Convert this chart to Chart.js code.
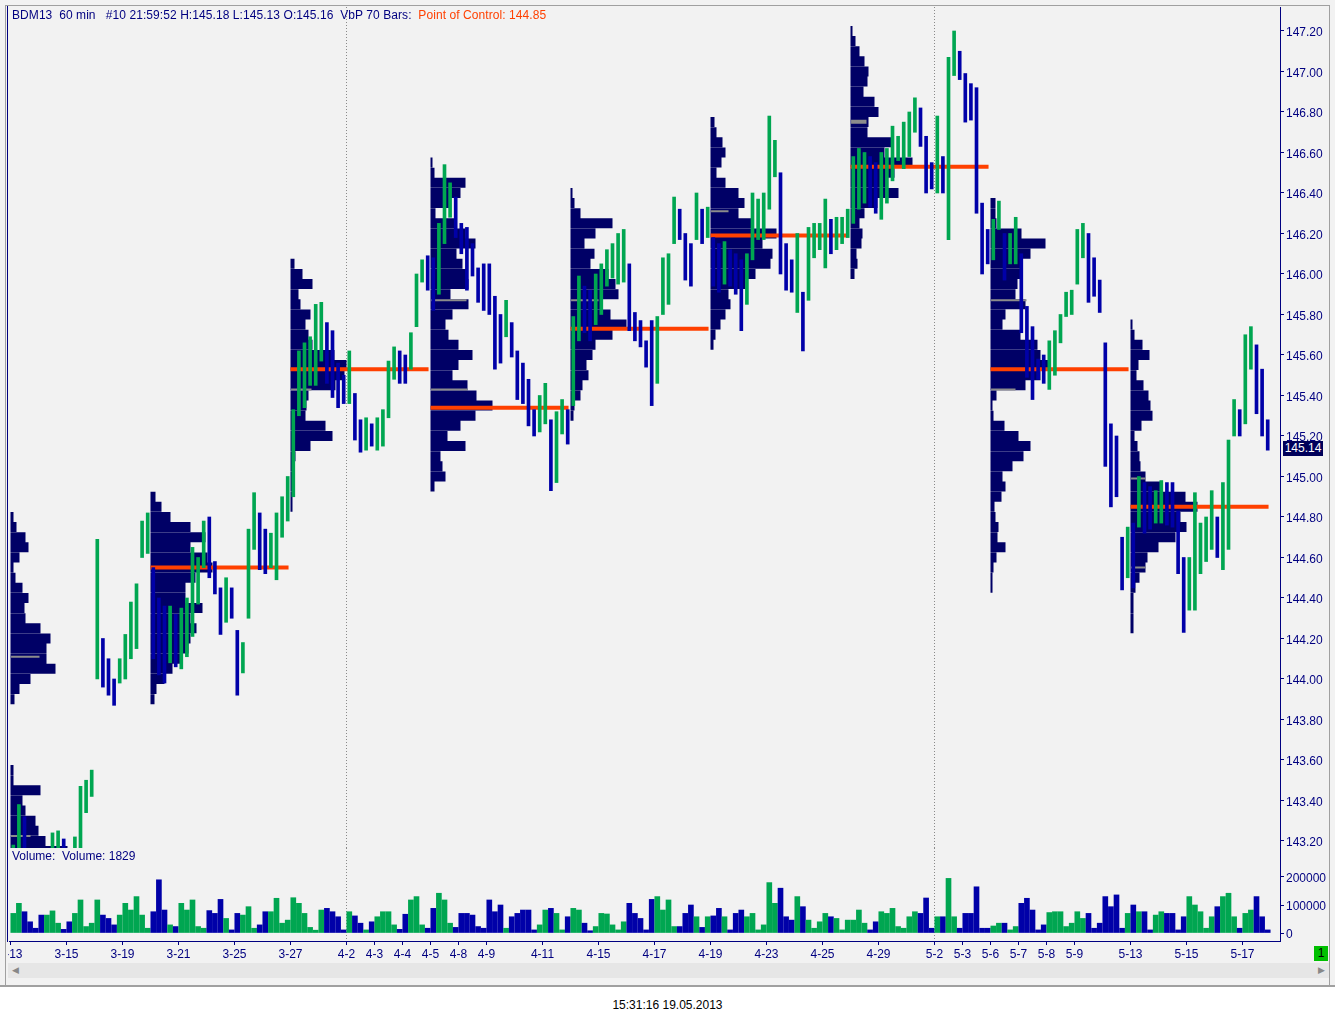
<!DOCTYPE html>
<html>
<head>
<meta charset="utf-8">
<title>BDM13 60 min - VbP</title>
<script src="https://cdn.jsdelivr.net/npm/chart.js@4.4.1/dist/chart.umd.min.js"></script>
<style>
  body { margin: 0; background: #fff; font-family: "Liberation Sans", Arial, sans-serif; }
  #win { position: absolute; left: 0; top: 0; width: 1335px; height: 985px; background: #f2f2f2; border-bottom: 2px solid #a0a0a0; }
  .abs { position: absolute; }
  #priceBox { left: 0; top: 0; width: 1335px; height: 848px; }
  #volBox { left: 0; top: 848px; width: 1335px; height: 114px; }
  .txt { position: absolute; font-size: 12px; line-height: 14px; white-space: pre; color: #000080; z-index: 5; }
</style>
</head>
<body>
<div id="win">
  <div class="abs" id="priceBox"><canvas id="priceChart"></canvas></div>
  <div class="abs" id="volBox"><canvas id="volChart"></canvas></div>

  <!-- window frame -->
  <div class="abs" style="left:0;top:0;width:8px;height:985px;background:#f2f2f2;z-index:4"></div>
  <div class="abs" style="left:5px;top:5px;width:1px;height:980px;background:#a0a0a0;z-index:4"></div>
  <div class="abs" style="left:7px;top:6px;width:1px;height:936px;background:#000080;z-index:4"></div>
  <div class="abs" style="left:5px;top:5px;width:1325px;height:1px;background:#a0a0a0;z-index:4"></div>
  <div class="abs" style="left:1329px;top:5px;width:1px;height:980px;background:#a0a0a0;z-index:4"></div>

  <div class="txt" style="left:12px;top:8px;letter-spacing:0.07px">BDM13  60 min   #10 21:59:52 H:145.18 L:145.13 O:145.16  VbP 70 Bars:  <span style="color:#ff4000">Point of Control: 144.85</span></div>
  <div class="txt" style="left:12px;top:849px">Volume:  Volume: 1829</div>
  <div class="txt" style="left:1283px;top:441px;width:40px;height:15px;background:#00005a;color:#fff;text-align:center;line-height:15px">145.14</div>
  <div class="txt" style="left:1314px;top:946px;width:14px;height:15px;background:#00c000;color:#000;text-align:center;line-height:15px">1</div>

  <!-- scroll bar -->
  <div class="abs" style="left:8px;top:963px;width:1321px;height:15px;background:#e6e6e6;z-index:4"></div>
  <div class="txt" style="left:12px;top:963px;color:#888;font-size:9px;line-height:15px">&#9664;</div>
  <div class="txt" style="left:1318px;top:963px;color:#888;font-size:9px;line-height:15px">&#9654;</div>
</div>
<div class="txt" style="left:0;top:998px;width:1335px;text-align:center;color:#000">15:31:16 19.05.2013</div>

<script>
// ---- axis labels ----
const dayLabels = ['3-13','3-15','3-19','3-21','3-25','3-27','4-2','4-3','4-4','4-5','4-8','4-9','4-11','4-15',
                   '4-17','4-19','4-23','4-25','4-29','5-2','5-3','5-6','5-7','5-8','5-9','5-13','5-15','5-17'];
const labelDays = [0,2,4,6,8,10,12,13,14,15,16,17,19,21,23,25,27,29,31,33,34,35,36,37,38,40,42,44];
const monthStarts = [12, 33];
const priceTicks = [143.2,143.4,143.6,143.8,144.0,144.2,144.4,144.6,144.8,145.0,145.2,145.4,145.6,145.8,146.0,146.2,146.4,146.6,146.8,147.0,147.2];
const volTicks = [0, 100000, 200000];

// ---- price samples (5 per trading day), high / low ----
const hi = [
  143.18,143.38,143.32,143.14,143.12,  143.10,143.12,143.24,143.25,143.21,  143.16,143.22,143.47,143.50,143.55,
  144.69,144.20,144.10,144.00,144.10,  144.22,144.38,144.47,144.78,144.82,  144.55,144.40,144.36,144.36,144.32,
  144.35,144.40,144.65,144.60,144.78,  144.80,144.58,144.45,144.50,144.45,  144.24,144.18,144.74,144.92,144.82,
  144.74,144.72,144.82,144.90,145.00,  145.33,145.62,145.66,145.69,145.85,  145.86,145.76,145.72,145.56,145.50,
  145.62,145.41,145.28,145.29,145.26,  145.29,145.33,145.57,145.64,145.62,  145.60,145.71,146.00,146.07,146.09,
  146.08,146.25,146.54,146.45,146.38,  146.25,146.23,146.15,146.03,146.05,  146.05,145.89,145.80,145.87,145.76,
  145.62,145.56,145.48,145.33,145.40,  145.46,145.28,145.32,145.38,145.33,  145.79,145.99,145.94,145.92,146.00,
  146.05,146.12,146.15,146.20,146.22,  146.05,145.81,145.77,145.67,145.77,  145.79,146.08,146.10,146.38,146.32,
  146.20,146.15,146.40,146.32,146.33,  146.18,146.15,146.16,146.12,146.10,  146.07,146.10,146.40,146.37,146.40,
  146.78,146.66,146.50,146.15,146.07,  146.20,145.91,146.23,146.25,146.25,  146.37,146.27,146.28,146.28,146.32,
  146.58,146.62,146.60,146.58,146.55,  146.60,146.62,146.73,146.68,146.75,  146.80,146.87,146.82,146.68,146.55,
  146.78,146.58,147.07,147.20,147.10,  146.99,146.94,146.92,146.35,146.22,  146.27,146.36,146.20,146.20,146.28,
  146.10,145.84,145.74,145.58,145.60,  145.67,145.72,145.80,145.91,145.92,  146.22,146.25,146.20,146.08,145.97,
  145.66,145.26,145.20,144.70,144.75,  144.77,145.00,144.97,144.95,144.93,  144.98,144.97,144.97,144.83,144.60,
  144.60,144.92,144.77,144.80,144.93,  144.80,144.97,145.18,145.38,145.33,  145.70,145.74,145.65,145.53,145.28
];
const lo = [
  143.02,143.10,143.05,143.00,142.98,  142.95,142.98,143.08,143.10,143.05,  143.00,143.05,143.15,143.34,143.42,
  144.00,143.96,143.92,143.87,143.98,  144.00,144.10,144.15,144.60,144.62,  144.10,144.02,143.98,144.08,144.06,
  144.05,144.11,144.21,144.37,144.55,  144.50,144.42,144.22,144.28,144.30,  143.92,144.03,144.30,144.64,144.54,
  144.52,144.55,144.49,144.70,144.78,  144.90,145.30,145.34,145.45,145.45,  145.57,145.46,145.39,145.34,145.36,
  145.36,145.18,145.12,145.13,145.15,  145.13,145.15,145.29,145.48,145.46,  145.46,145.53,145.74,145.96,145.92,
  145.82,145.90,146.15,146.28,146.18,  146.10,145.92,145.99,145.86,145.82,  145.80,145.53,145.56,145.69,145.59,
  145.38,145.36,145.25,145.20,145.22,  145.26,144.93,144.97,145.21,145.16,  145.35,145.67,145.71,145.67,145.75,
  145.80,145.94,145.98,145.95,145.96,  145.72,145.67,145.64,145.54,145.35,  145.46,145.80,145.85,146.15,146.17,
  145.97,145.94,146.17,146.15,146.18,  145.94,145.91,145.95,145.94,145.90,  145.72,145.85,146.07,146.17,146.17,
  146.32,146.48,146.00,145.92,145.91,  145.81,145.62,145.87,146.08,146.12,  146.03,146.10,146.12,146.15,146.18,
  146.25,146.32,146.35,146.33,146.30,  146.27,146.35,146.46,146.56,146.52,  146.58,146.70,146.63,146.40,146.42,
  146.40,146.40,146.17,146.98,146.96,  146.75,146.76,146.30,146.00,146.05,  146.07,146.22,145.97,146.05,146.05,
  145.71,145.49,145.38,145.48,145.46,  145.43,145.50,145.66,145.79,145.80,  145.95,146.08,145.86,145.89,145.81,
  145.05,144.85,144.90,144.44,144.50,  144.45,144.75,144.72,144.74,144.77,  144.77,144.76,144.75,144.52,144.23,
  144.34,144.34,144.52,144.58,144.64,  144.60,144.54,144.64,145.20,145.20,  145.26,145.53,145.31,145.20,145.13
];
// volume per sample, thousands of contracts
const volK = [
  70,106,76,40,17,  64,64,79,35,13,  40,70,118,23,35,  118,64,52,29,64,  106,82,130,64,17,
  76,190,82,29,23,  106,82,118,23,17,  80,70,120,52,11,  70,64,94,17,29,  76,76,124,35,46,
  126,106,70,20,10,  82,88,76,58,11,  76,61,35,11,40,  58,76,76,29,13,  67,118,130,29,17,
  88,142,118,35,20,  70,70,64,23,17,  118,76,100,17,58,  70,82,82,11,29,  82,88,70,11,58,
  88,82,35,8,23,  70,68,29,11,40,  106,70,52,11,120,  130,82,118,23,23,  70,100,58,20,58,
  61,88,58,11,70,  82,58,70,11,29,  180,106,160,58,46,  130,94,46,17,40,  70,58,52,11,46,
  46,82,35,11,40,  76,70,88,23,17,  58,76,70,125,17,  58,58,195,58,17,  70,70,165,17,17,
  25,35,35,11,23,  106,124,82,11,29,  73,76,76,23,35,  76,52,70,17,35,  130,94,136,17,70,
  100,76,76,11,64,  76,70,70,11,58,  130,100,76,17,58,  94,130,142,58,17,  70,82,130,58,11
];

// ---- volume-at-price profiles, one per 5-day block ----
const periodStart = [0, 5, 10, 15, 20, 25, 30, 35, 40];
const profileTop  = [144.80, 144.90, 146.05, 146.55, 146.40, 146.75, 147.20, 146.35, 145.75];
const prof0 = [3,6,15,18,9,3,5,12,18,14,15,30,40,36,36,45,20,9,4,0,0,0,0,0,0,3,3,30,12,15,25,28,35,57];
const prof1 = [5,11,20,40,55,40,57,62,45,35,35,52,40,46,40,38,30,22,14,6,4];
const prof2 = [4,12,22,8,10,20,15,18,22,44,56,54,45,18,16,15,35,42,20,5,4,3,3,2,2];
const prof3 = [2,4,35,30,20,5,25,35,45,26,32,37,38,20,38,22,15,18,28,42,28,22,37,46,62,45,30,17,35,10,12,15,4];
const prof4 = [2,4,10,42,25,14,24,20,38,45,48,32,40,56,42,25,22,16,18,12,10,4,3];
const prof5 = [4,6,12,15,11,6,15,28,34,28,42,66,52,62,60,45,35,18,20,15,10,5,3];
const prof6 = [2,5,9,14,18,17,13,24,28,18,17,41,34,62,44,36,48,27,14,9,12,11,6,7,4];
const prof7 = [5,5,6,31,55,40,30,30,27,25,35,15,12,30,47,50,58,50,35,6,2,3,14,28,40,33,22,12,15,11,4,5,8,7,15,6,3,2,2];
const prof8 = [2,4,12,19,8,6,13,18,20,22,11,4,7,9,10,15,30,55,67,50,56,45,28,17,15,9,5,3,3,3,3];
const pocPrice = [null, 144.55, 145.53, 145.34, 145.73, 146.19, 146.53, 145.53, 144.85];
// thin grey marks inside the profiles
const markPeriod = [0, 0, 2, 3, 3, 4, 5, 6, 6, 7, 7, 8, 8];
const markPrice  = [144.11, 143.225, 145.43, 145.87, 145.43, 145.87, 146.31, 146.757, 146.747, 145.87, 145.43, 144.99, 144.55];
const markLen    = [29, 20, 21, 36, 37, 28, 18, 16, 16, 36, 25, 15, 15];

const SAMPLES = 5;          // samples per day
const LEVEL = 0.05;         // profile price step
const UNIT = 28;            // profile units per day width
const POC_SPAN = 4.93;
const X_MIN = -0.0536, X_MAX = 45.339;
const AXIS_W = 55;
const NAVY = '#000080';
const FONT = '"Liberation Sans", Arial, sans-serif';

Chart.defaults.font.family = FONT;
Chart.defaults.font.size = 12;

const profiles = [prof0, prof1, prof2, prof3, prof4, prof5, prof6, prof7, prof8];
const xOf = j => (j + 0.5) / SAMPLES;
const up = hi.map((h, j) => j === 0 || (h + lo[j]) > (hi[j - 1] + lo[j - 1]));
const barColors = up.map(u => u ? '#00a651' : '#0000a8');

function profilePoints(k) {
  const pts = [];
  const s = periodStart[k];
  profiles[k].forEach((len, i) => {
    if (!len) return;
    const y = +(profileTop[k] - i * LEVEL).toFixed(3);
    pts.push({x: s, y: y}, {x: s + len / UNIT, y: y}, {x: s, y: null});
  });
  return pts;
}
const pocPts = [];
pocPrice.forEach((p, k) => {
  if (p == null) return;
  const s = periodStart[k];
  pocPts.push({x: s, y: p}, {x: s + POC_SPAN, y: p}, {x: s, y: null});
});
const markPts = [];
markPrice.forEach((p, i) => {
  const s = periodStart[markPeriod[i]];
  markPts.push({x: s + 0.02, y: p}, {x: s + markLen[i] / UNIT, y: p}, {x: s, y: null});
});

const monthGrid = c => (c.tick && monthStarts.includes(c.tick.value)) ? '#8a8a8a' : 'rgba(0,0,0,0)';
function yScaleBase(min, max, tickVals, fmt) {
  return {
    position: 'right', min: min, max: max,
    afterBuildTicks: s => { s.ticks = tickVals.map(v => ({value: v})); },
    afterFit: s => { s.width = AXIS_W; s.paddingTop = 0; s.paddingBottom = 0; },
    ticks: {color: NAVY, padding: 2, labelOffset: 2, callback: fmt},
    grid: {drawOnChartArea: false, tickLength: 4, tickColor: NAVY},
    border: {color: NAVY, width: 1}
  };
}

const profileSets = profiles.map((p, k) => ({
  type: 'line', data: profilePoints(k), borderColor: '#000066', borderWidth: 10,
  borderCapStyle: 'butt', pointRadius: 0, spanGaps: false, order: 4
}));

new Chart(document.getElementById('priceChart'), {
  type: 'bar',
  data: {
    datasets: [
      {type: 'bar', data: hi.map((h, j) => ({x: xOf(j), y: [lo[j], h]})), backgroundColor: barColors,
       barThickness: 3, grouped: false, order: 0},
      {type: 'line', data: pocPts, borderColor: '#ff4000', borderWidth: 4, borderCapStyle: 'butt',
       pointRadius: 0, spanGaps: false, order: 1},
      {type: 'line', data: markPts, borderColor: '#8c8c8c', borderWidth: 2, borderCapStyle: 'butt',
       pointRadius: 0, spanGaps: false, order: 2}
    ].concat(profileSets)
  },
  options: {
    responsive: true, maintainAspectRatio: false, animation: false, events: [],
    layout: {padding: {left: 9, top: 7, right: 0, bottom: 0}},
    plugins: {legend: {display: false}, tooltip: {enabled: false}},
    scales: {
      x: {
        type: 'linear', min: X_MIN, max: X_MAX, offset: false,
        afterBuildTicks: s => { s.ticks = labelDays.map(v => ({value: v})); },
        afterFit: s => { s.height = 0; s.paddingLeft = 0; s.paddingRight = 0; },
        ticks: {display: false},
        grid: {offset: false, drawTicks: false, color: monthGrid},
        border: {display: false, dash: [1, 2]}
      },
      y: yScaleBase(143.1654, 147.3185, priceTicks, v => v.toFixed(2))
    }
  }
});

new Chart(document.getElementById('volChart'), {
  type: 'bar',
  data: {
    datasets: [{
      data: volK.map((v, j) => ({x: xOf(j), y: v * 1000})), backgroundColor: barColors,
      barThickness: 5, grouped: false
    }]
  },
  options: {
    responsive: true, maintainAspectRatio: false, animation: false, events: [],
    layout: {padding: {left: 9, top: 0, right: 0, bottom: 0}},
    plugins: {legend: {display: false}, tooltip: {enabled: false}},
    scales: {
      x: {
        type: 'linear', min: X_MIN, max: X_MAX, offset: false,
        afterBuildTicks: s => { s.ticks = labelDays.map(v => ({value: v})); },
        afterFit: s => { s.height = 21; s.paddingLeft = 0; s.paddingRight = 0; },
        ticks: {color: NAVY, padding: 2, autoSkip: false, maxRotation: 0, callback: (v, i) => dayLabels[i]},
        grid: {offset: false, color: monthGrid, tickColor: NAVY, tickLength: 4},
        border: {color: NAVY, width: 1, dash: [1, 2]}
      },
      y: yScaleBase(-28571, 303571, volTicks, v => String(v))
    }
  }
});
</script>
</body>
</html>
